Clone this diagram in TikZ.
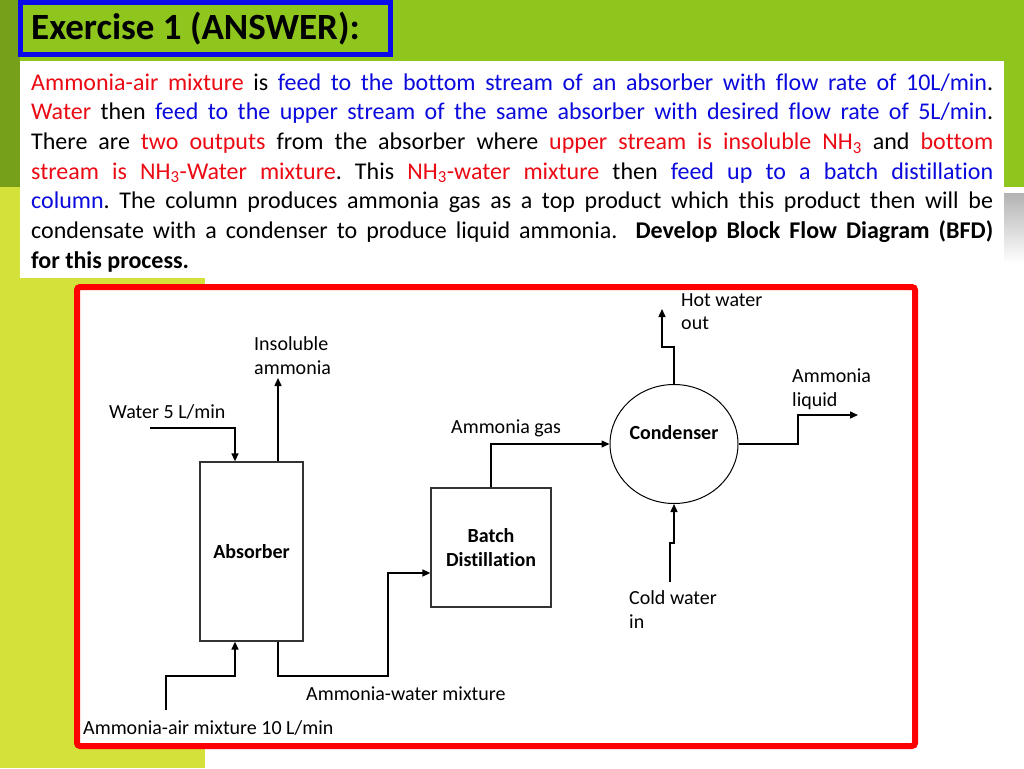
\documentclass[tikz,border=0pt]{standalone}
\usepackage{fontspec}
\setmainfont{Carlito}[Ligatures={NoCommon,TeX}]
\usetikzlibrary{arrows.meta,shapes.geometric}
\definecolor{topgreen}{RGB}{142,198,30}
\definecolor{darkgreen}{RGB}{118,160,26}
\definecolor{lightgreen}{RGB}{212,225,58}
\definecolor{titleblue}{RGB}{10,10,235}
\definecolor{txtred}{RGB}{235,10,20}
\definecolor{txtblue}{RGB}{10,10,220}
\newcommand{\Rd}[1]{\textcolor{txtred}{#1}}
\newcommand{\Bl}[1]{\textcolor{txtblue}{#1}}
\frenchspacing
\begin{document}
\begin{tikzpicture}[x=1pt,y=-1pt,
  flow/.style={line width=1.4pt, draw=black, -{Triangle[length=8pt,width=7pt]}},
  unitbox/.style={draw=black!80, line width=1.3pt, inner sep=0pt, align=center,
    font=\fontsize{20pt}{24pt}\selectfont\bfseries},
  lbl/.style={anchor=base west, inner sep=0pt, font=\fontsize{20pt}{24pt}\selectfont},
  para/.style={anchor=base west, inner sep=0pt, font=\fontsize{24pt}{29.7pt}\selectfont}]
\useasboundingbox (0,0) rectangle (1024,768);
% background
\fill[white] (0,0) rectangle (1024,768);
\fill[topgreen] (0,0) rectangle (1024,187);
\fill[darkgreen] (0,0) rectangle (20,187);
\fill[lightgreen] (0,187) rectangle (205,768);
\shade[top color=black!30, bottom color=white] (1004,193) rectangle (1024,263);
% title
\draw[titleblue, line width=5pt, fill=topgreen] (20,2.5) rectangle (390,54.5);
\node[anchor=base west, inner sep=0pt, font=\fontsize{37pt}{40pt}\selectfont\bfseries] (title) at (31,39.5) {Exercise 1 (ANSWER):};
% text box
\fill[white] (20,61) rectangle (1004,278);
\node[para] (p1) at (31,90) {\makebox[962pt][s]{\Rd{Ammonia-air mixture} is \Bl{feed to the bottom stream of an absorber with flow rate of 10L/min}.}};
\node[para] (p2) at (31,119.7) {\makebox[962pt][s]{\Rd{Water} then \Bl{feed to the upper stream of the same absorber with desired flow rate of 5L/min}.}};
\node[para] (p3) at (31,149.4) {\makebox[962pt][s]{There are \Rd{two outputs} from the absorber where \Rd{upper stream is insoluble NH\textsubscript{3}} and \Rd{bottom}}};
\node[para] (p4) at (31,179.1) {\makebox[962pt][s]{\Rd{stream is NH\textsubscript{3}-Water mixture}. This \Rd{NH\textsubscript{3}-water mixture} then \Bl{feed up to a batch distillation}}};
\node[para] (p5) at (31,208.8) {\makebox[962pt][s]{\Bl{column}. The column produces ammonia gas as a top product which this product then will be}};
\node[para] (p6) at (31,238.5) {\makebox[962pt][s]{condensate with a condenser to produce liquid ammonia.\ \ \textbf{Develop Block Flow Diagram (BFD)}}};
\node[para] (p7) at (31,268.2) {\textbf{for this process.}};
% diagram frame
\draw[red, line width=6pt, rounded corners=3pt, fill=white] (77,287) rectangle (915,746);
% units
\node[unitbox, minimum width=103pt, minimum height=179pt] (abs) at (251.5,551.5) {Absorber};
\node[unitbox, minimum width=120pt, minimum height=119pt] (bd) at (491,547.5) {Batch\\Distillation};
\node[draw=black, line width=1pt, ellipse, minimum width=128pt, minimum height=119pt, inner sep=0pt] (cond) at (674,444) {};
\node[anchor=base, inner sep=0pt, font=\fontsize{20pt}{24pt}\selectfont\bfseries] (condlbl) at (674,439) {Condenser};
% free ends
\coordinate (wIn) at (150,428);
\coordinate (insolOut) at (278,378);
\coordinate (airIn) at (166,710);
\coordinate (airK) at (235,676);
\coordinate (awK) at (388,676);
\coordinate (hwK) at (662,347);
\coordinate (hwOut) at (662,309);
\coordinate (alK) at (798,415);
\coordinate (alOut) at (858,415);
\coordinate (cwIn) at (670,582);
\coordinate (cwK) at (674,543);
% connectors
\draw[flow] (wIn) -| ([xshift=-16.5pt]abs.north);
\draw[flow] ([xshift=26.5pt]abs.north) -- (insolOut);
\draw[flow] (airIn) |- (airK) -- ([xshift=-16.5pt]abs.south);
\draw[flow] ([xshift=26.5pt]abs.south) |- (awK) |- ([yshift=-25.5pt]bd.west);
\draw[flow] (bd.north) |- (cond.west);
\draw[flow] (cond.north) |- (hwK) -- (hwOut);
\draw[flow] (cond.east) -| (alK) -- (alOut);
\draw[flow] (cwIn) |- (cwK) -- (cond.south);
% labels
\node[lbl] (lw) at (109,418) {Water 5 L/min};
\node[lbl] (li1) at (254,350) {Insoluble};
\node[lbl] (li2) at (254,374) {ammonia};
\node[lbl] (lair) at (83,734) {Ammonia-air mixture 10 L/min};
\node[lbl] (law) at (306,700) {Ammonia-water mixture};
\node[lbl] (lgas) at (451,433) {Ammonia gas};
\node[lbl] (lhw1) at (681,306) {Hot water};
\node[lbl] (lhw2) at (681,329) {out};
\node[lbl] (lal1) at (792,382) {Ammonia};
\node[lbl] (lal2) at (792,406) {liquid};
\node[lbl] (lcw1) at (629,604) {Cold water};
\node[lbl] (lcw2) at (629,628) {in};
\end{tikzpicture}
\end{document}
